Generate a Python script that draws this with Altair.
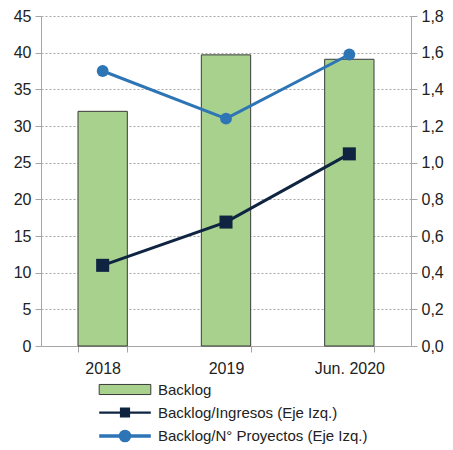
import altair as alt
import pandas as pd

categories = ["2018", "2019", "Jun. 2020"]
backlog = [32.0, 39.7, 39.1]
backlog_ingresos = [11.0, 16.9, 26.2]
backlog_proyectos = [1.50, 1.24, 1.59]

series_names = ["Backlog", "Backlog/Ingresos (Eje Izq.)", "Backlog/N° Proyectos (Eje Izq.)"]
fill_colors = ["#A9D18E", "#0E2441", "#2E75B6"]
stroke_colors = ["#3A3A3A", "#0E2441", "#2E75B6"]
stroke_widths = [1, 3.5, 3.5]
legend_shapes = [
    "M-2.15,-0.42H2.15V0.42H-2.15Z",
    "M-2.15,0H2.15M-0.33,-0.33H0.33V0.33H-0.33Z",
    "M-2.15,0H2.15M-0.38,0A0.38,0.38 0 1,1 0.38,0A0.38,0.38 0 1,1 -0.38,0Z",
]

FONT = "Liberation Sans, Arial"

df = pd.DataFrame({
    "cat": categories,
    "backlog": backlog,
    "ingresos": backlog_ingresos,
    "proyectos": backlog_proyectos,
})
legend_df = pd.DataFrame({"series": series_names})

x_enc = alt.X(
    "cat:N",
    sort=categories,
    title=None,
    scale=alt.Scale(paddingInner=0.6, paddingOuter=0.3),
    axis=alt.Axis(
        labelAngle=0, tickBand="extent", domainColor="#A6A6A6", tickColor="#A6A6A6",
        tickSize=6, labelPadding=8, labelFontSize=16, labelColor="#222222", labelFont=FONT,
        grid=False,
    ),
)

left_scale = alt.Scale(domain=[0, 45], nice=False)
left_axis = alt.Axis(
    values=list(range(0, 50, 5)), title=None, domainColor="#A6A6A6", tickColor="#A6A6A6",
    tickSize=6, labelFontSize=16, labelColor="#222222", labelFont=FONT, labelPadding=4,
    grid=True, gridColor="#A6A6A6", gridDash=[2, 2], gridWidth=1,
)

bars = alt.Chart(df).mark_bar(
    color="#A9D18E", stroke="#3A3A3A", strokeWidth=1
).encode(
    x=x_enc,
    y=alt.Y("backlog:Q", scale=left_scale, axis=left_axis),
)

line_ing = alt.Chart(df).mark_line(
    color="#0E2441", strokeWidth=3,
    point=alt.OverlayMarkDef(shape="square", size=170, filled=True, color="#0E2441", opacity=1),
).encode(
    x=alt.X("cat:N", sort=categories),
    y=alt.Y("ingresos:Q", scale=left_scale, axis=left_axis),
)

legend_layer = alt.Chart(legend_df).mark_point(filled=True, opacity=1).encode(
    fill=alt.Fill("series:N", scale=alt.Scale(domain=series_names, range=fill_colors),
                  legend=alt.Legend(
                      orient="none", legendX=70, legendY=361, direction="vertical", title=None,
                      labelFont=FONT, labelFontSize=15, labelColor="#222222", labelLimit=0,
                      symbolSize=576, labelOffset=19, rowPadding=1, padding=0,
                  )),
    stroke=alt.Stroke("series:N", scale=alt.Scale(domain=series_names, range=stroke_colors)),
    strokeWidth=alt.StrokeWidth("series:N", scale=alt.Scale(domain=series_names, range=stroke_widths)),
    shape=alt.Shape("series:N", scale=alt.Scale(domain=series_names, range=legend_shapes)),
).transform_filter("false")

left = alt.layer(bars, line_ing)

line_proj = alt.Chart(df).mark_line(
    color="#2E75B6", strokeWidth=3,
    point=alt.OverlayMarkDef(shape="circle", size=140, filled=True, color="#2E75B6", opacity=1),
).encode(
    x=alt.X("cat:N", sort=categories),
    y=alt.Y(
        "proyectos:Q",
        scale=alt.Scale(domain=[0, 1.8], nice=False),
        axis=alt.Axis(
            orient="right", values=[0, 0.2, 0.4, 0.6, 0.8, 1.0, 1.2, 1.4, 1.6, 1.8],
            labelExpr="replace(format(datum.value, '.1f'), '.', ',')",
            title=None, domainColor="#A6A6A6", tickColor="#A6A6A6", tickSize=6,
            labelFontSize=16, labelColor="#222222", labelFont=FONT, labelPadding=4, grid=False,
        ),
    ),
)

chart = alt.layer(left, line_proj, legend_layer).resolve_scale(y="independent").properties(
    width=370, height=330,
    padding={"left": 33, "top": 8, "right": 34, "bottom": 104},
    autosize=alt.AutoSizeParams(type="none"),
).configure_view(stroke=None)

chart.save("out.html", embed_options={"renderer": "svg", "actions": False})
